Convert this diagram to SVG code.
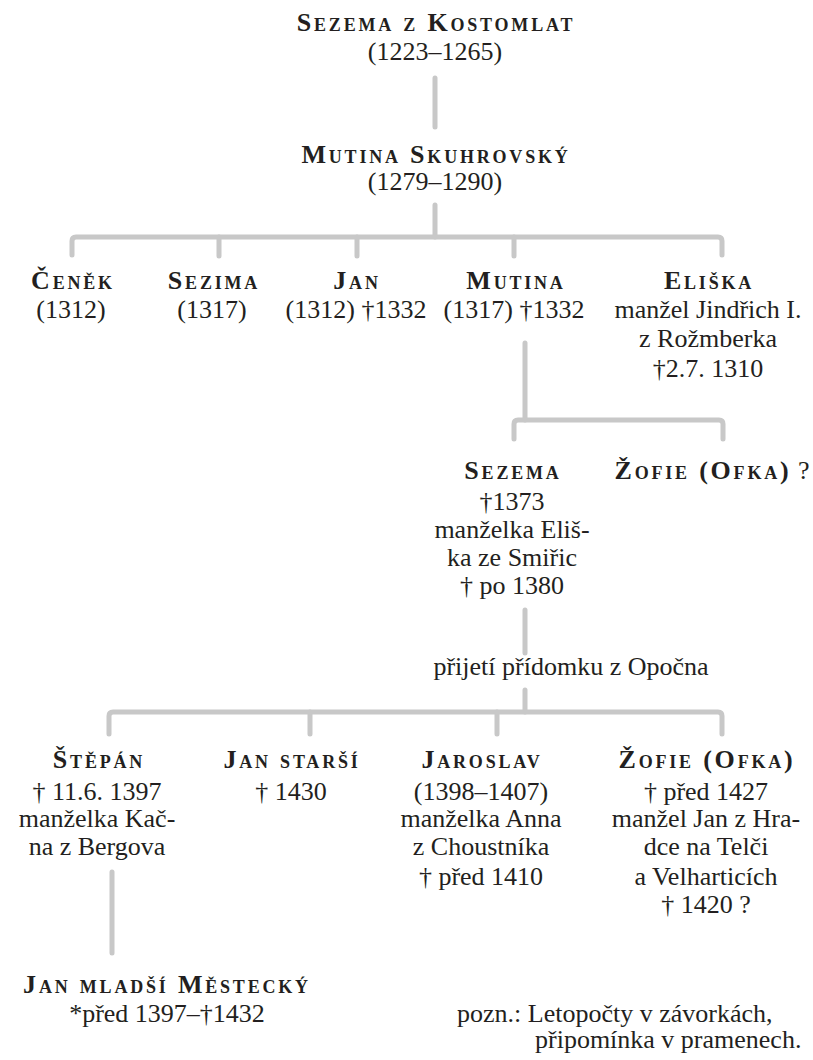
<svg xmlns="http://www.w3.org/2000/svg" width="813" height="1060" viewBox="0 0 813 1060">
<style>
text{font-family:"Liberation Serif","Times New Roman",serif;font-size:26px;fill:#231f20;text-anchor:middle}
.n{font-weight:bold;font-variant:small-caps;letter-spacing:2.8px}
.r{font-weight:normal;font-variant:normal;letter-spacing:0}
.l{text-anchor:start}
.c path{fill:none;stroke:#c8c8c8;stroke-width:5;stroke-linecap:round;stroke-linejoin:round}
</style>
<rect width="813" height="1060" fill="#fff"/>
<g class="c" id="connectors">
<path d="M435 78V127"/>
<path d="M435 205V237"/>
<path d="M72 255V241Q72 237 76 237H718Q722 237 722 241V255"/>
<path d="M219 237V256M357 237V256M514 237V256"/>
<path d="M525 343V420"/>
<path d="M514 439V424Q514 420 518 420H719Q723 420 723 424V439"/>
<path d="M525 610V653"/>
<path d="M525 690V712"/>
<path d="M109 734V716Q109 712 113 712H718Q722 712 722 716V734"/>
<path d="M310 712V734M497 712V734"/>
<path d="M112 872V953"/>
</g>
<g id="sezema-kostomlat"><text class="n" x="436" y="31">Sezema z Kostomlat</text><text x="435" y="60">(1223–1265)</text></g>
<g id="mutina-skuhrovsky"><text class="n" x="436" y="163">Mutina Skuhrovský</text><text x="435" y="190">(1279–1290)</text></g>
<g id="cenek"><text class="n" x="73" y="289">Čeněk</text><text x="71" y="318">(1312)</text></g>
<g id="sezima"><text class="n" x="214" y="289">Sezima</text><text x="212" y="318">(1317)</text></g>
<g id="jan"><text class="n" x="357" y="289">Jan</text><text x="356" y="318">(1312) †1332</text></g>
<g id="mutina"><text class="n" x="516" y="289">Mutina</text><text x="514" y="318">(1317) †1332</text></g>
<g id="eliska"><text class="n" x="709" y="289">Eliška</text><text x="708" y="318">manžel Jindřich I.</text><text x="708" y="347">z Rožmberka</text><text x="708" y="377">†2.7. 1310</text></g>
<g id="sezema"><text class="n" x="513" y="479">Sezema</text><text x="512" y="510">†1373</text><text x="512" y="538">manželka Eliš-</text><text x="512" y="566">ka ze Smiřic</text><text x="512" y="594">† po 1380</text></g>
<g id="zofie-1"><text class="n" x="712" y="479">Žofie (Ofka)<tspan class="r"> ?</tspan></text></g>
<g id="note-opocno"><text x="571" y="675">přijetí přídomku z Opočna</text></g>
<g id="stepan"><text class="n" x="99" y="768">Štěpán</text><text x="97" y="800">† 11.6. 1397</text><text x="97" y="827">manželka Kač-</text><text x="97" y="855">na z Bergova</text></g>
<g id="jan-starsi"><text class="n" x="292" y="768">Jan starší</text><text x="291" y="800">† 1430</text></g>
<g id="jaroslav"><text class="n" x="482" y="768">Jaroslav</text><text x="481" y="800">(1398–1407)</text><text x="481" y="827">manželka Anna</text><text x="481" y="855">z Choustníka</text><text x="481" y="885">† před 1410</text></g>
<g id="zofie-2"><text class="n" x="707" y="768">Žofie (Ofka)</text><text x="706" y="800">† před 1427</text><text x="706" y="827">manžel Jan z Hra-</text><text x="706" y="855">dce na Telči</text><text x="706" y="885">a Velharticích</text><text x="706" y="913">† 1420 ?</text></g>
<g id="jan-mladsi"><text class="n" x="167" y="993">Jan mladší Městecký</text><text x="167" y="1022">*před 1397–†1432</text></g>
<g id="note"><text class="l" x="457" y="1022">pozn.: Letopočty v závorkách,</text><text class="l" x="535" y="1048">připomínka v pramenech.</text></g>
</svg>
